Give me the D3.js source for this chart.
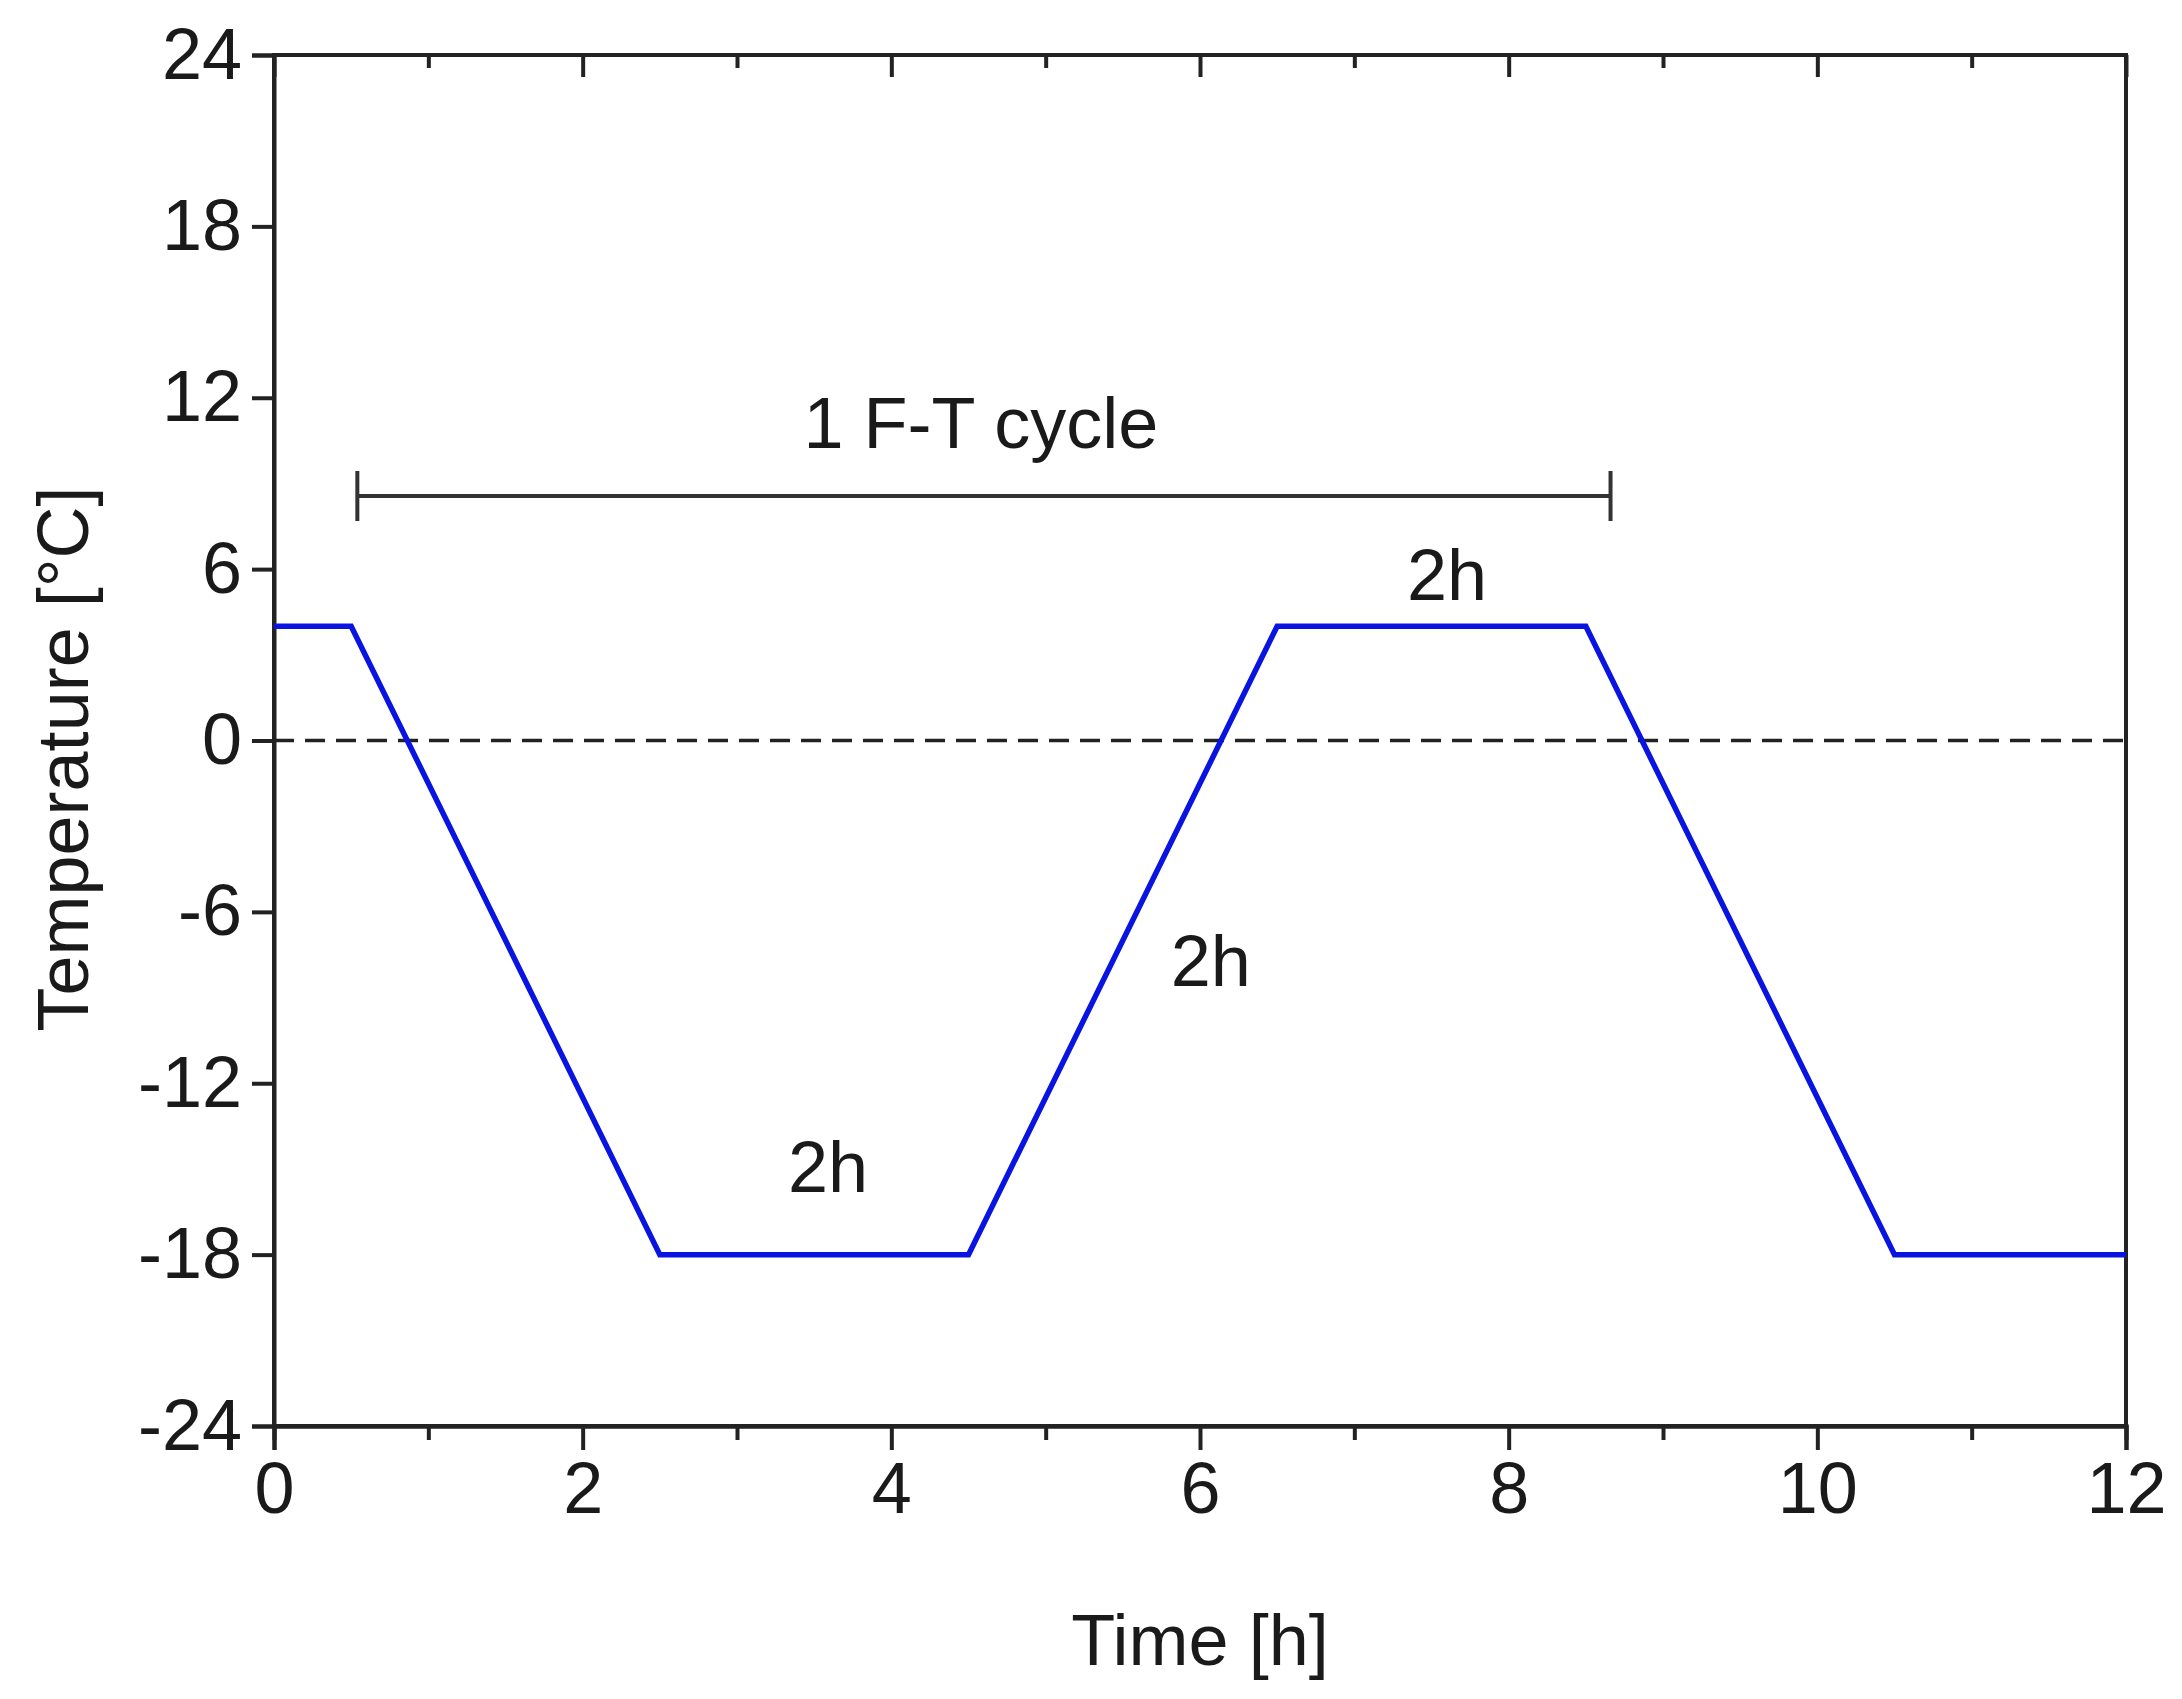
<!DOCTYPE html>
<html><head><meta charset="utf-8">
<script src="https://cdn.jsdelivr.net/npm/d3@7"></script>
<style>body{margin:0;background:#fff}text{font-family:Arial,"Liberation Sans",sans-serif;fill:#1a1a1a}</style>
</head><body><svg id="c" width="2182" height="1699"></svg>
<script>
const timeH = [0, 0.5, 2.5, 4.5, 6.5, 8.5, 10.5, 12];
const tempC = [4, 4, -18, -18, 4, 4, -18, -18];
const xTicks = [0, 2, 4, 6, 8, 10, 12];
const xMinor = [1, 3, 5, 7, 9, 11];
const yTicks = [-24, -18, -12, -6, 0, 6, 12, 18, 24];
const labels = [
  {text: "1 F-T cycle", x: 4.58, y: 10.25},
  {text: "2h", x: 7.6, y: 4.93},
  {text: "2h", x: 6.07, y: -8.6},
  {text: "2h", x: 3.59, y: -15.8}
];
const bracket = {x0: 0.54, x1: 8.66, y: 8.56};

const L=274,R=2126,T=55,B=1426;
const svg=d3.select("#c");
const x=d3.scaleLinear().domain([0,12]).range([L,R]);
const y=d3.scaleLinear().domain([-24,24]).range([B,T]);
const ax="#222", fs=72, sw=4;
const fmt=d=>String(d);

const gb=svg.append("g").attr("transform",`translate(0,${B})`)
  .call(d3.axisBottom(x).tickValues(xTicks).tickSize(24).tickPadding(12).tickFormat(fmt));
gb.append("g").call(d3.axisBottom(x).tickValues(xMinor).tickSize(14).tickFormat(""));
const gl=svg.append("g").attr("transform",`translate(${L},0)`)
  .call(d3.axisLeft(y).tickValues(yTicks).tickSize(22).tickPadding(10).tickFormat(fmt));
const gt=svg.append("g").attr("transform",`translate(0,${T})`)
  .call(d3.axisBottom(x).tickValues(xTicks).tickSize(22).tickFormat(""));
gt.append("g").call(d3.axisBottom(x).tickValues(xMinor).tickSize(13).tickFormat(""));
svg.selectAll(".domain").attr("stroke",ax).attr("stroke-width",sw);
svg.selectAll(".tick line").attr("stroke",ax).attr("stroke-width",sw);
svg.selectAll(".tick text").attr("font-size",fs).attr("fill","#1a1a1a").style("font-family","Arial, 'Liberation Sans', sans-serif");
gt.selectAll(".domain").remove();
svg.append("rect").attr("x",L).attr("y",T).attr("width",R-L).attr("height",B-T)
  .attr("fill","none").attr("stroke",ax).attr("stroke-width",sw);

svg.append("line").attr("x1",x(0)).attr("x2",x(12)).attr("y1",y(0)).attr("y2",y(0))
  .attr("stroke","#222").attr("stroke-width",3.5).attr("stroke-dasharray","20,11");

const pts=timeH.map((t,i)=>[t,tempC[i]]);
svg.append("path").datum(pts).attr("fill","none").attr("stroke","#0a14e0").attr("stroke-width",5.5)
  .attr("d",d3.line().x(d=>x(d[0])).y(d=>y(d[1])));

const bg=svg.append("g").attr("stroke","#333").attr("stroke-width",4);
bg.append("line").attr("x1",x(bracket.x0)).attr("x2",x(bracket.x1)).attr("y1",y(bracket.y)).attr("y2",y(bracket.y));
[bracket.x0,bracket.x1].forEach(v=>bg.append("line").attr("x1",x(v)).attr("x2",x(v)).attr("y1",y(bracket.y)-25).attr("y2",y(bracket.y)+25));

svg.selectAll(".lab").data(labels).enter().append("text").attr("class","lab")
  .attr("x",d=>x(d.x)).attr("y",d=>y(d.y)).attr("text-anchor","middle").attr("font-size",fs).text(d=>d.text);

svg.append("text").attr("x",(L+R)/2).attr("y",1665).attr("text-anchor","middle").attr("font-size",fs).text("Time [h]");
svg.append("text").attr("transform",`translate(88,759) rotate(-90)`).attr("text-anchor","middle").attr("font-size",fs).text("Temperature [°C]");
</script></body></html>
